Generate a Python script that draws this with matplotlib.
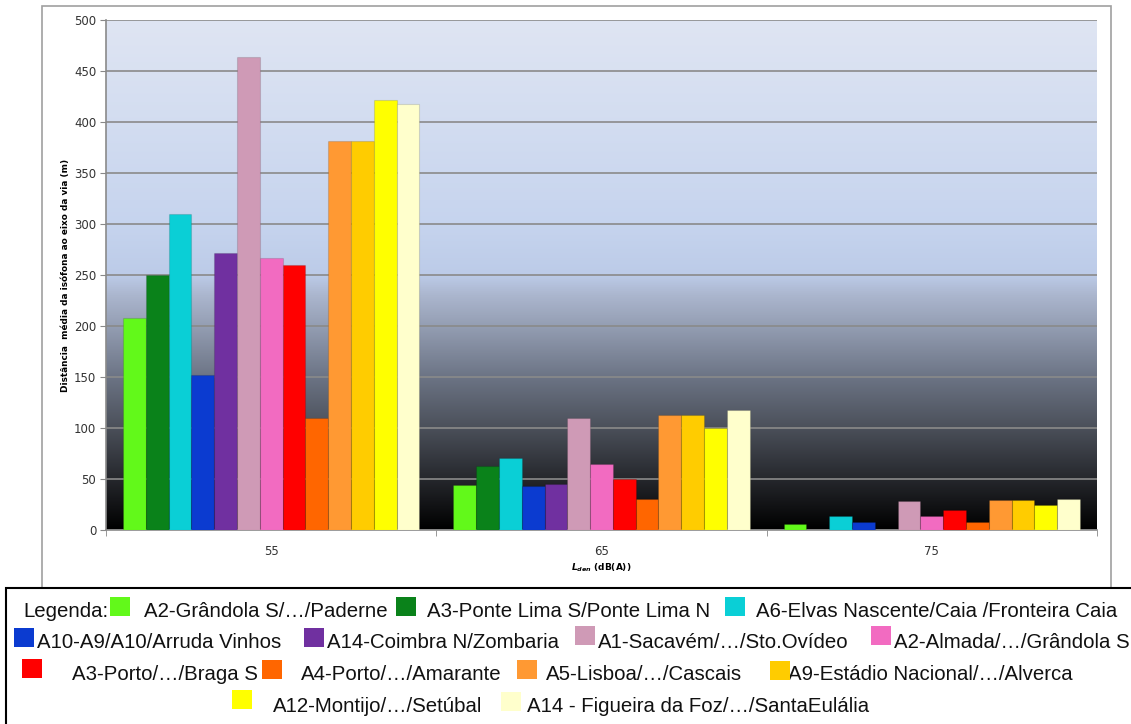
import matplotlib
matplotlib.use("Agg")
import matplotlib.pyplot as plt
import numpy as np
from matplotlib.colors import LinearSegmentedColormap
from matplotlib.patches import Rectangle

# --- data -------------------------------------------------------------------
levels = ["55", "65", "75"]
series = [
    "A2-Grândola S/…/Paderne",
    "A3-Ponte Lima S/Ponte Lima N",
    "A6-Elvas Nascente/Caia /Fronteira Caia",
    "A10-A9/A10/Arruda Vinhos",
    "A14-Coimbra N/Zombaria",
    "A1-Sacavém/…/Sto.Ovídeo",
    "A2-Almada/…/Grândola S",
    "A3-Porto/…/Braga S",
    "A4-Porto/…/Amarante",
    "A5-Lisboa/…/Cascais",
    "A9-Estádio Nacional/…/Alverca",
    "A12-Montijo/…/Setúbal",
    "A14 - Figueira da Foz/…/SantaEulália",
]
colors = ["#62f91a", "#0a821a", "#0acfd6", "#0b3bd0", "#7030a0", "#cf9ab6",
          "#f26bc1", "#ff0000", "#ff6600", "#ff9933", "#ffcc00", "#ffff00",
          "#ffffcc"]
dist_55 = [208, 250, 310, 152, 272, 464, 267, 260, 110, 381, 381, 422, 418]
dist_65 = [44, 63, 71, 43, 45, 110, 65, 50, 30, 113, 113, 100, 118]
dist_75 = [6, 0, 14, 8, 0, 28, 14, 20, 8, 29, 29, 25, 30]

W, H = 1131, 724


def fx(x):
    return x / W


def fy(y):
    return 1 - y / H


fig = plt.figure(figsize=(W / 100, H / 100), dpi=100)
ax = fig.add_axes([fx(106), fy(530), fx(1097) - fx(106), fy(20) - fy(530)])

# plot-area fill: pale blue on top fading into black at the base
bg = LinearSegmentedColormap.from_list("bg", [
    (0.0, "#000000"), (0.1, "#26282d"), (0.2, "#4b505a"), (0.3, "#6c7485"),
    (0.4, "#949eb3"), (0.46, "#abb6ce"), (0.5, "#bccbe8"), (0.6, "#c6d4ee"),
    (1.0, "#dfe5f3")])
grad = np.linspace(0, 1, 256).reshape(-1, 1)
ax.imshow(grad, cmap=bg, origin="lower", aspect="auto",
          extent=[-0.5, 2.5, 0, 500], zorder=0)

data = np.array([dist_55, dist_65, dist_75])
x = np.arange(len(levels))
n = len(series)
bw = 0.069
for i, (name, c) in enumerate(zip(series, colors)):
    off = (i - (n - 1) / 2) * bw
    ax.bar(x + off, data[:, i], bw, color=c, edgecolor=(0, 0, 0, 0.12),
           linewidth=0.8, zorder=3)

ax.set_xlim(-0.5, 2.5)
ax.set_ylim(0, 500)
ax.set_yticks(np.arange(0, 501, 50))
ax.yaxis.grid(True, color="#8a8a8a", lw=1.2)
for gl in ax.get_ygridlines():
    gl.set_zorder(1)
ax.set_xticks(x)
ax.set_xticklabels(levels)
ax.set_xticks([-0.5, 0.5, 1.5, 2.5], minor=True)
ax.tick_params(axis="x", which="major", length=0, pad=11, labelsize=8.5,
               labelcolor="#333333")
ax.tick_params(axis="x", which="minor", length=4, color="#888888")
ax.tick_params(axis="y", length=4, color="#888888", labelsize=8.5,
               labelcolor="#333333", pad=3)
for s in ["top", "right"]:
    ax.spines[s].set_visible(False)
for s in ["left", "bottom"]:
    ax.spines[s].set_color("#8a8a8a")
    ax.spines[s].set_linewidth(1.2)

ax.set_ylabel("Distância  média da isófona ao eixo da via (m)",
              fontsize=6.4, fontweight="bold", labelpad=3)
ax.set_xlabel(r"$\mathbfit{L}_{\mathbfit{den}}$ (dB(A))", fontsize=6.5,
              fontweight="bold", labelpad=2)

# chart frame and legend box
fig.add_artist(Rectangle((fx(42), fy(588)), fx(1111) - fx(42), fy(6) - fy(588),
                         transform=fig.transFigure, fill=False,
                         edgecolor="#a0a0a0", lw=1.2))
fig.add_artist(Rectangle((fx(6), fy(730)), fx(1140) - fx(6), fy(588) - fy(730),
                         transform=fig.transFigure, fill=False,
                         edgecolor="#000000", lw=1.5))

# hand-placed legend: (patch left, patch top, text left, text baseline)
layout = [
    (110, 597, 144, 617), (396, 597, 427, 617), (725, 597, 756, 617),
    (14, 628, 37, 648), (304, 628, 327, 648), (575, 626, 598, 648),
    (871, 626, 894, 648),
    (22, 659, 72, 680), (262, 660, 301, 680), (517, 660, 546, 680),
    (770, 661, 788, 680),
    (232, 690, 273, 712), (501, 692, 527, 712),
]
lfont = dict(fontsize=14.7, family="Liberation Sans", color="#111111")
fig.text(fx(23), fy(617), "Legenda:", va="baseline", ha="left", **lfont)
for (px, pt, tx, tb), name, c in zip(layout, series, colors):
    fig.text(fx(tx), fy(tb), name, va="baseline", ha="left", zorder=1, **lfont)
    fig.add_artist(Rectangle((fx(px), fy(pt + 19)), fx(px + 20) - fx(px),
                             fy(pt) - fy(pt + 19), transform=fig.transFigure,
                             facecolor=c, edgecolor="none", zorder=2))

fig.savefig("out.png", dpi=100)
